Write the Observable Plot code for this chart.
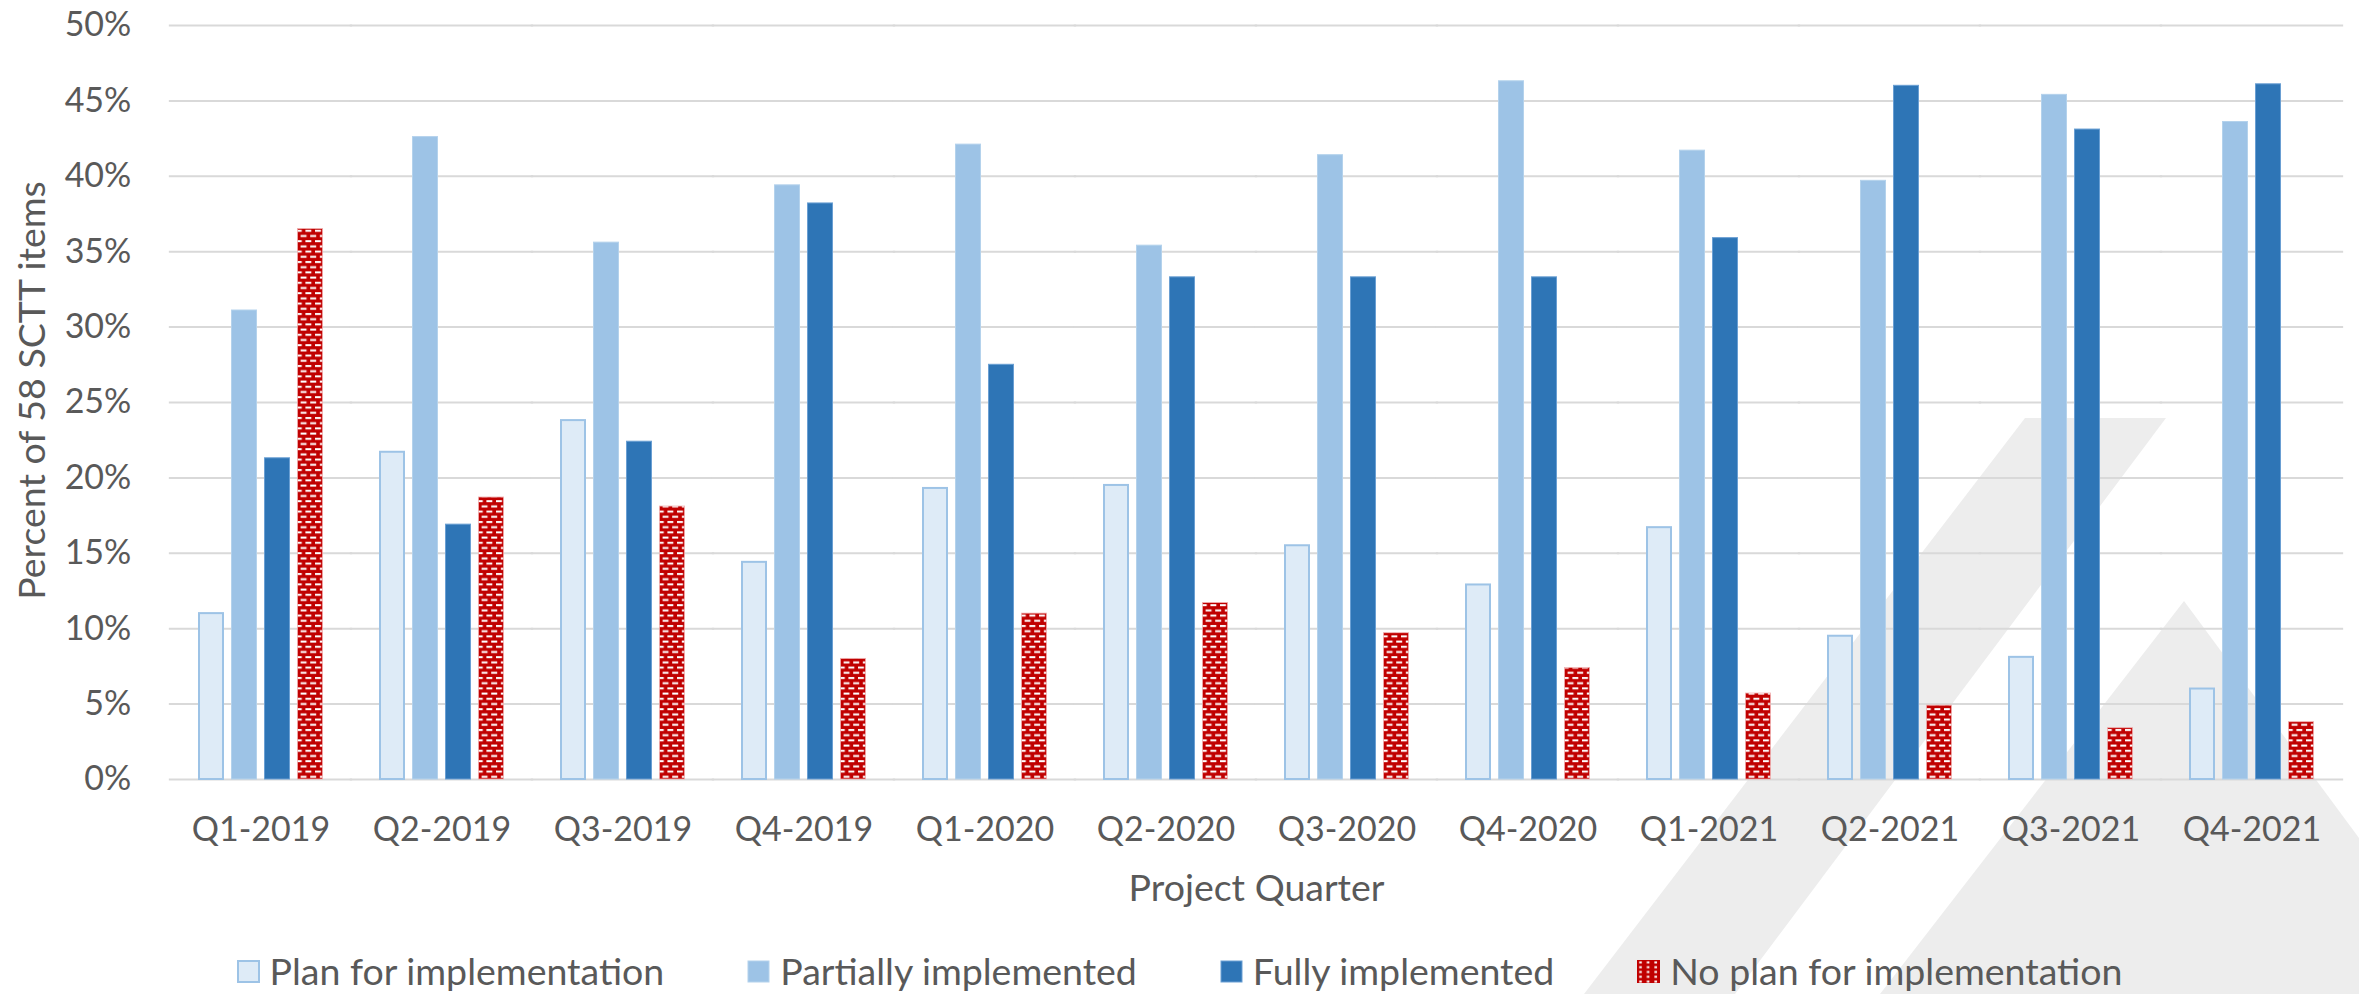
<!DOCTYPE html>
<html>
<head>
<meta charset="utf-8">
<script src="https://cdn.jsdelivr.net/npm/d3@7"></script>
<script src="https://cdn.jsdelivr.net/npm/@observablehq/plot@0.6"></script>
<style>
  html, body { margin: 0; padding: 0; background: #fff; }
  #chart { position: relative; width: 2359px; height: 994px; overflow: hidden;
           font-family: Lato, "Open Sans", sans-serif; color: #595959; }
  #backdrop { position: absolute; left: 0; top: 0; }
  #plot { position: relative; }
  #legend { position: relative; display: flex; justify-content: center; align-items: center;
            gap: 83px; height: 46px; font-size: 37.5px; line-height: 1; white-space: nowrap; }
  .legend-item { display: flex; align-items: center; gap: 10px; }
  .legend-item svg { display: block; }
</style>
</head>
<body>
<div id="chart">
  <!-- faint logo shapes behind the chart -->
  <svg id="backdrop" width="2359" height="994">
    <polygon points="2025,418 2166,418 1735,994 1584,994" fill="#ededed"/>
    <polygon points="2184,601 2359,838 2359,994 1880,994" fill="#ededed"/>
  </svg>
  <div id="plot"></div>
  <div id="legend"></div>
</div>
<script>
// Quarters on the x axis
const quarters = ["Q1-2019", "Q2-2019", "Q3-2019", "Q4-2019", "Q1-2020", "Q2-2020",
                  "Q3-2020", "Q4-2020", "Q1-2021", "Q2-2021", "Q3-2021", "Q4-2021"];

// Implementation status series (legend order)
const seriesNames = ["Plan for implementation", "Partially implemented",
                     "Fully implemented", "No plan for implementation"];

// Percent of the 58 SCTT items in each status, per quarter
const planForImplementation = [11.0, 21.7, 23.8, 14.4, 19.3, 19.5, 15.5, 12.9, 16.7, 9.5, 8.1, 6.0];
const partiallyImplemented  = [31.1, 42.6, 35.6, 39.4, 42.1, 35.4, 41.4, 46.3, 41.7, 39.7, 45.4, 43.6];
const fullyImplemented      = [21.3, 16.9, 22.4, 38.2, 27.5, 33.3, 33.3, 33.3, 35.9, 46.0, 43.1, 46.1];
const noPlanForImplementation = [36.5, 18.7, 18.1, 8.0, 11.0, 11.7, 9.7, 7.4, 5.7, 4.9, 3.4, 3.8];

// Y axis ticks (percent)
const yTicks = [0, 5, 10, 15, 20, 25, 30, 35, 40, 45, 50];

const xTitle = "Project Quarter";
const yTitle = "Percent of 58 SCTT items";

const seriesValues = [planForImplementation, partiallyImplemented, fullyImplemented, noPlanForImplementation];
const rows = quarters.flatMap((quarter, i) =>
  seriesNames.map((series, j) => ({quarter, series, value: seriesValues[j][i]})));

// Layout
const width = 2359, height = 948;
const marginLeft = 170, marginRight = 17, marginTop = 25, marginBottom = 169;
const groupPadding = 0.3;                 // gap between quarter groups
const step = (width - marginLeft - marginRight) / quarters.length;
const firstGroupLeft = marginLeft + step * groupPadding / 2;
const gridExtend = step * groupPadding / 2 + 1; // join gridlines across the group gaps
const tickFont = 34, titleFont = 37.5;

const styles = [
  {fill: "#deebf7", stroke: "#9dc3e6", strokeWidth: 2, insetLeft: 1, insetRight: 1},
  {fill: "#9dc3e6", stroke: "#b4d2ec", strokeWidth: 1, insetLeft: 0.5, insetRight: 0.5},
  {fill: "#2e75b6", stroke: "#6a9fd3", strokeWidth: 1, insetLeft: 0.5, insetRight: 0.5},
  {fill: "url(#noPlanBricks)", stroke: "#f0b0b0", strokeWidth: 0.8, insetLeft: 0.4, insetRight: 0.4}
];

const barMarks = seriesNames.map((name, j) =>
  Plot.barY(rows.filter(d => d.series === name), {
    fx: "quarter", x: "series", y: "value", ...styles[j]
  }));

const svg = Plot.plot({
  width, height, marginLeft, marginRight, marginTop, marginBottom,
  style: {background: "transparent", fontFamily: "Lato, 'Open Sans', sans-serif",
          fontSize: `${tickFont}px`, color: "#595959", overflow: "visible"},
  fx: {domain: quarters, paddingInner: groupPadding, paddingOuter: groupPadding / 2},
  x: {domain: seriesNames, paddingInner: 0.2, paddingOuter: 0, axis: null},
  y: {domain: [0, 50]},
  marks: [
    Plot.ruleY(yTicks, {stroke: "#d9d9d9", strokeWidth: 2,
                        insetLeft: -gridExtend, insetRight: -gridExtend}),
    ...barMarks,
    // tick labels
    Plot.axisY({ticks: yTicks, tickFormat: d => `${d}%`, tickSize: 0,
                tickPadding: firstGroupLeft - 131, fontSize: tickFont, label: null}),
    Plot.axisFx({anchor: "bottom", tickSize: 0, tickPadding: 37, fontSize: tickFont, label: null}),
    // axis titles
    Plot.text([yTitle], {fx: () => quarters[0], text: d => d, frameAnchor: "left",
                         rotate: -90, textAnchor: "middle", lineAnchor: "middle",
                         dx: -(firstGroupLeft - 33), dy: -12, fontSize: titleFont, fill: "#595959"}),
    Plot.axisFx({anchor: "bottom", ticks: [], tickSize: 0, fontSize: titleFont,
                 label: xTitle, labelAnchor: "center", labelOffset: 121, labelArrow: false})
  ]
});

// Brick-like hatch used by the "No plan" series
function addBrickPattern(target, id, w, h) {
  const defs = d3.select(target).insert("defs", ":first-child");
  const p = defs.append("pattern").attr("id", id)
    .attr("patternUnits", "userSpaceOnUse").attr("width", w).attr("height", h);
  const dash = w * 0.62, thick = 2;
  p.append("rect").attr("width", w).attr("height", h).attr("fill", "#c00000");
  p.append("rect").attr("x", 0).attr("y", 1).attr("width", dash).attr("height", thick).attr("fill", "#fff");
  p.append("rect").attr("x", w / 2).attr("y", h / 2 + 1).attr("width", dash).attr("height", thick).attr("fill", "#fff");
  p.append("rect").attr("x", w / 2 - w).attr("y", h / 2 + 1).attr("width", dash).attr("height", thick).attr("fill", "#fff");
}
addBrickPattern(svg, "noPlanBricks", 9.6, 10.4);
document.getElementById("plot").appendChild(svg);

// Legend
const legend = d3.select("#legend");
seriesNames.forEach((name, j) => {
  const item = legend.append("div").attr("class", "legend-item");
  const sw = item.append("svg").attr("width", 23).attr("height", 23);
  if (j === 3) {
    const defs = sw.append("defs");
    const p = defs.append("pattern").attr("id", "legendDots")
      .attr("patternUnits", "userSpaceOnUse").attr("width", 7.6).attr("height", 4.8);
    p.append("rect").attr("width", 7.6).attr("height", 4.8).attr("fill", "#c00000");
    p.append("rect").attr("x", 2.2).attr("y", 1.4).attr("width", 2.6).attr("height", 2).attr("fill", "#fff");
    sw.append("rect").attr("width", 23).attr("height", 23).attr("fill", "url(#legendDots)");
  } else {
    const s = styles[j];
    sw.append("rect").attr("x", 1).attr("y", 1).attr("width", 21).attr("height", 21)
      .attr("fill", s.fill).attr("stroke", s.stroke).attr("stroke-width", j === 0 ? 2 : 1);
  }
  item.append("span").text(name);
});
</script>
</body>
</html>
